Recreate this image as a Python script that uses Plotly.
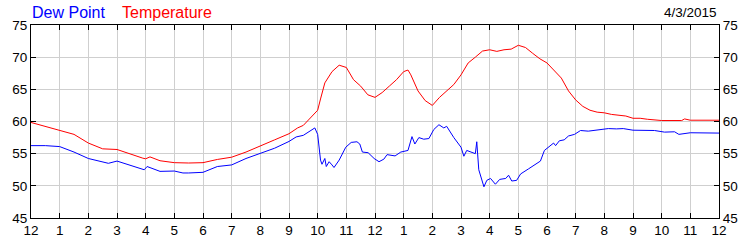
import plotly.graph_objects as go

# Hours since midnight (0..24) and readings
temp_hours = [0, 0.5, 1, 1.5, 2, 2.5, 3, 3.5, 3.9, 4.0, 4.15, 4.5, 5, 5.5, 6, 6.5, 7, 7.5, 8, 8.5,
              9, 9.3, 9.5, 9.75, 10, 10.1, 10.25, 10.5, 10.75, 11, 11.25, 11.5, 11.75, 12, 12.25,
              12.5, 12.75, 13, 13.15, 13.25, 13.5, 13.75, 14, 14.25, 14.5, 14.75, 15, 15.25, 15.5,
              15.75, 16, 16.25, 16.5, 16.75, 17, 17.25, 17.5, 17.75, 18, 18.25, 18.5, 18.75, 19,
              19.25, 19.5, 19.75, 20, 20.25, 20.5, 20.75, 21, 21.25, 21.5, 22, 22.5, 22.7, 22.8,
              23, 24]
temperature = [59.85, 59.2, 58.6, 58.0, 56.65, 55.75, 55.65, 54.85, 54.3, 54.2, 54.5, 53.9, 53.6,
               53.55, 53.6, 54.1, 54.45, 55.25, 56.15, 57.15, 58.1, 59.0, 59.4, 60.5, 61.75, 63.5,
               66.0, 67.75, 68.75, 68.4, 66.5, 65.5, 64.15, 63.75, 64.5, 65.5, 66.5, 67.75, 68.0,
               67.25, 64.75, 63.25, 62.5, 63.75, 64.75, 65.75, 67.25, 69.1, 70.0, 70.95, 71.15,
               70.9, 71.15, 71.25, 71.85, 71.5, 70.6, 69.75, 69.1, 68.0, 66.75, 64.75, 63.35,
               62.35, 61.75, 61.45, 61.35, 61.1, 61.0, 60.85, 60.5, 60.5, 60.35, 60.15, 60.15,
               60.15, 60.4, 60.2, 60.2]

dew_hours = [0, 0.5, 1, 1.5, 2, 2.4, 2.7, 3, 3.5, 3.95, 4.05, 4.5, 5, 5.3, 5.5, 6, 6.5, 7, 7.5, 8,
             8.5, 9, 9.25, 9.5, 9.75, 9.9, 10, 10.1, 10.15, 10.25, 10.3, 10.4, 10.5, 10.57, 10.75,
             10.98, 11.17, 11.37, 11.47, 11.56, 11.76, 11.97, 12.14, 12.31, 12.42, 12.7, 12.9,
             13.15, 13.29, 13.39, 13.53, 13.7, 13.88, 14.05, 14.23, 14.4, 14.5, 14.75, 15, 15.1,
             15.2, 15.5, 15.55, 15.62, 15.8, 15.9, 16.03, 16.2, 16.35, 16.56, 16.66, 16.77, 16.94,
             17.08, 17.36, 17.6, 17.77, 17.91, 18.09, 18.23, 18.3, 18.43, 18.6, 18.75, 18.96,
             19.17, 19.44, 19.79, 20.14, 20.42, 20.66, 21.0, 21.25, 21.75, 22.1, 22.45, 22.6,
             22.85, 23.0, 24]
dew_point = [56.25, 56.25, 56.1, 55.25, 54.25, 53.85, 53.5, 53.85, 53.1, 52.5, 53.0, 52.25, 52.3,
             52.0, 52.0, 52.1, 53.0, 53.25, 54.25, 55.0, 55.85, 56.9, 57.6, 57.85, 58.6, 59.0,
             58.0, 54.0, 53.35, 54.25, 53.0, 53.75, 53.25, 52.85, 54.0, 56.0, 56.75, 56.85, 56.5,
             55.25, 55.15, 54.25, 53.75, 54.15, 54.85, 54.65, 55.25, 55.5, 57.65, 56.5, 57.5,
             57.25, 57.35, 58.75, 59.5, 59.0, 59.25, 57.5, 56.0, 54.6, 55.5, 55.0, 56.85, 52.5,
             49.85, 50.85, 51.15, 50.25, 51.0, 51.15, 51.65, 50.75, 50.85, 51.85, 52.65, 53.35,
             53.85, 55.5, 56.15, 56.65, 56.25, 57.0, 57.15, 57.75, 58.0, 58.6, 58.5, 58.65, 58.9,
             58.85, 58.9, 58.65, 58.65, 58.6, 58.35, 58.4, 58.0, 58.15, 58.25, 58.2]

x_tick_vals = list(range(25))
x_tick_text = ["12", "1", "2", "3", "4", "5", "6", "7", "8", "9", "10", "11",
               "12", "1", "2", "3", "4", "5", "6", "7", "8", "9", "10", "11", "12"]
date_label = "4/3/2015"

FONT = "Liberation Sans, Arial, sans-serif"
L, R, T, B = 31, 29, 25, 25
W, H = 750, 250
pw, ph = W - L - R, H - T - B

fig = go.Figure()
fig.add_trace(go.Scatter(x=dew_hours, y=dew_point, mode="lines",
                         line=dict(color="#0000ff", width=1), name="Dew Point"))
fig.add_trace(go.Scatter(x=temp_hours, y=temperature, mode="lines", yaxis="y2",
                         line=dict(color="#ff0000", width=1), name="Temperature"))

axis_common = dict(showline=True, linecolor="black", linewidth=1, ticks="inside", ticklen=5,
                   tickcolor="black", tickfont=dict(family=FONT, size=13.5, color="black"),
                   zeroline=False)

fig.update_layout(
    width=W, height=H, margin=dict(l=L, r=R, t=T, b=B),
    paper_bgcolor="white", plot_bgcolor="white", showlegend=False,
    xaxis=dict(range=[0, 24], tickvals=x_tick_vals, ticktext=x_tick_text, showgrid=True,
               gridcolor="#cfcfcf", gridwidth=1, mirror="ticks", **axis_common),
    yaxis=dict(range=[45, 75], dtick=5, showgrid=True, gridcolor="#cfcfcf", gridwidth=1,
               mirror="ticks", **axis_common),
    yaxis2=dict(range=[45, 75], dtick=5, overlaying="y", side="right", showgrid=False,
                **axis_common),
    annotations=[
        dict(text="Dew Point", x=(30 - L) / pw, y=(H - B - 12) / ph, xref="paper", yref="paper",
             xanchor="left", yanchor="middle", showarrow=False,
             font=dict(family=FONT, size=16, color="#0000ff")),
        dict(text="Temperature", x=(120 - L) / pw, y=(H - B - 12) / ph, xref="paper", yref="paper",
             xanchor="left", yanchor="middle", showarrow=False,
             font=dict(family=FONT, size=16, color="#ff0000")),
        dict(text=date_label, x=(721 - L) / pw, y=(H - B - 12) / ph, xref="paper", yref="paper",
             xanchor="right", yanchor="middle", showarrow=False,
             font=dict(family=FONT, size=13.5, color="black")),
    ],
)

fig.write_html("out.html")
